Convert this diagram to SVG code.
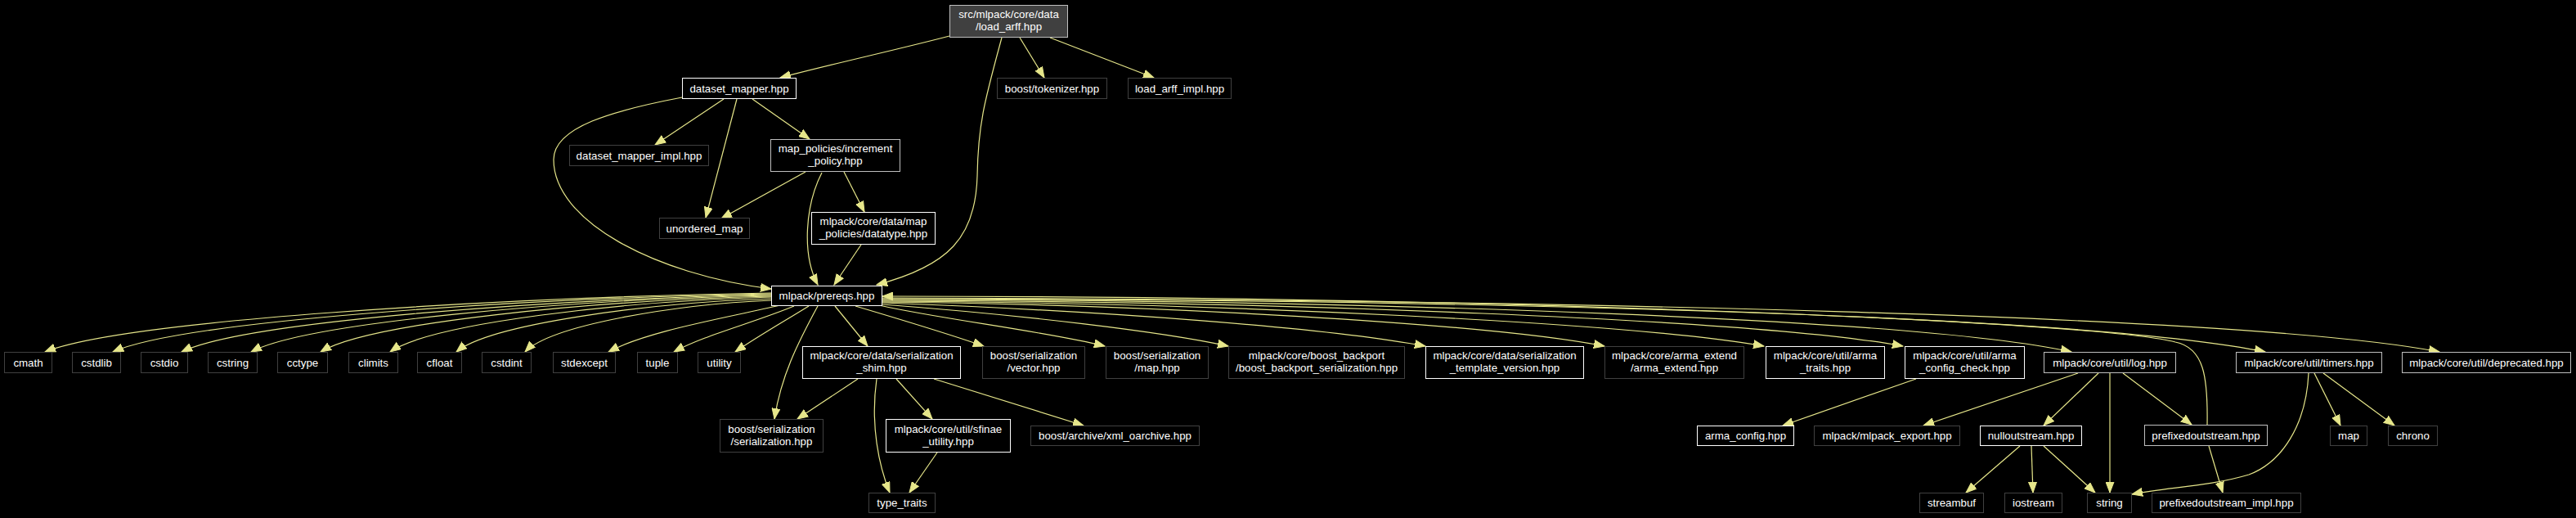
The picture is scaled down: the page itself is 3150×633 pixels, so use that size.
<svg xmlns="http://www.w3.org/2000/svg" width="3150" height="633" viewBox="0 0 3150 633">
<style>
.bg{fill:#000}
rect.w{fill:#000;stroke:#ffffff;stroke-width:1}
rect.g{fill:#000;stroke:#bfbfbf;stroke-width:1}
rect.d{fill:#000;stroke:#404040;stroke-width:1}
rect.r{fill:#404040;stroke:#bfbfbf;stroke-width:1}
text{font-family:"Liberation Sans",Arial,Helvetica,sans-serif;font-size:13.3px;fill:#ffffff;text-anchor:middle}
#edges path{fill:none;stroke:#e6e68a;stroke-width:1.2;marker-end:url(#ah)}
</style>
<defs>
<marker id="ah" markerUnits="userSpaceOnUse" markerWidth="14" markerHeight="11" refX="13" refY="5" orient="auto" viewBox="0 0 14 10">
<path d="M0,0 L13,5 L0,10 z" fill="#e6e68a" stroke="#e6e68a" stroke-width="1"/>
</marker>
</defs>
<rect class="bg" x="0" y="0" width="3150" height="633"/>
<g id="edges">
<path d="M1161,44 C1100,60 1010,80 954,95"/>
<path d="M1225,46 C1205,120 1196,150 1195,215 C1193,290 1160,325 1072,348"/>
<path d="M1247,46 L1277,95"/>
<path d="M1284,46 L1411,95"/>
<path d="M885,121 L801,177"/>
<path d="M901,121 L863,266"/>
<path d="M920,121 L990,170"/>
<path d="M834,119 C750,135 677,155 677,195 C677,270 800,335 943,353"/>
<path d="M985,210 L882,267"/>
<path d="M1005,211 C985,250 980,310 1000,348"/>
<path d="M1032,210 L1057,259"/>
<path d="M1053,299 L1020,348"/>
<path d="M943,358 C597,364 150,392 55,430"/>
<path d="M943,359 C629,365 224,392 138,430"/>
<path d="M943,360 C662,366 299,393 222,430"/>
<path d="M943,361 C695,366 375,394 307,430"/>
<path d="M943,362 C728,367 451,394 392,430"/>
<path d="M943,363 C761,368 527,395 477,430"/>
<path d="M943,365 C793,370 599,396 558,430"/>
<path d="M943,367 C826,372 674,397 642,430"/>
<path d="M954,373 C880,390 790,405 744,430"/>
<path d="M971,374 C920,395 860,410 824,430"/>
<path d="M989,374 C960,392 925,412 899,430"/>
<path d="M1000,374 C975,420 955,460 947,512"/>
<path d="M1021,374 L1061,423"/>
<path d="M1046,374 C1100,390 1160,408 1203,423"/>
<path d="M1075,373 C1150,390 1280,405 1351,423"/>
<path d="M1079,372 C1250,385 1420,405 1502,423"/>
<path d="M1079,370 C1350,380 1620,400 1743,423"/>
<path d="M1079,369 C1400,372 1820,395 1962,423"/>
<path d="M1079,368 C1500,370 2000,395 2157,423"/>
<path d="M1079,367 C1550,368 2150,390 2327,423"/>
<path d="M1079,366 C1700,367 2350,390 2533,430"/>
<path d="M1079,365 C1800,366 2550,385 2770,430"/>
<path d="M1079,364 C1900,366 2750,385 2983,430"/>
<path d="M2699,519 C2700,460 2695,425 2660,418 C2560,392 1800,362 1079,362"/>
<path d="M1049,463 L975,512"/>
<path d="M1072,463 C1064,520 1075,570 1088,602"/>
<path d="M1096,463 L1140,512"/>
<path d="M1142,463 L1325,520"/>
<path d="M1146,553 L1112,602"/>
<path d="M2343,463 L2180,520"/>
<path d="M2541,456 L2352,520"/>
<path d="M2566,456 L2499,520"/>
<path d="M2580,456 L2580,602"/>
<path d="M2596,456 L2680,519"/>
<path d="M2470,545 L2404,602"/>
<path d="M2484,545 L2486,602"/>
<path d="M2499,545 L2562,602"/>
<path d="M2701,545 L2718,602"/>
<path d="M2823,456 C2820,520 2790,565 2750,580 C2700,595 2650,595 2607,604"/>
<path d="M2830,456 L2862,520"/>
<path d="M2841,456 L2928,520"/>
</g>
<g id="n_root"><rect class="r" x="1161.5" y="6.5" width="144" height="39"/><text x="1233.5" y="22">src/mlpack/core/data</text><text x="1233.5" y="37">/load_arff.hpp</text></g>
<g id="n_dm"><rect class="w" x="834.5" y="95.5" width="139" height="25"/><text x="904" y="112.5">dataset_mapper.hpp</text></g>
<g id="n_tok"><rect class="d" x="1219.5" y="95.5" width="134" height="25"/><text x="1286.5" y="112.5">boost/tokenizer.hpp</text></g>
<g id="n_lai"><rect class="d" x="1379.5" y="95.5" width="126" height="25"/><text x="1442.5" y="112.5">load_arff_impl.hpp</text></g>
<g id="n_dmi"><rect class="d" x="696.5" y="177.5" width="170" height="25"/><text x="781.5" y="194.5">dataset_mapper_impl.hpp</text></g>
<g id="n_inc"><rect class="g" x="942.5" y="170.5" width="158" height="39"/><text x="1021.5" y="186">map_policies/increment</text><text x="1021.5" y="201">_policy.hpp</text></g>
<g id="n_um"><rect class="d" x="806.5" y="266.5" width="110" height="25"/><text x="861.5" y="283.5">unordered_map</text></g>
<g id="n_dt"><rect class="w" x="992.5" y="259.5" width="151" height="39"/><text x="1068" y="275">mlpack/core/data/map</text><text x="1068" y="290">_policies/datatype.hpp</text></g>
<g id="n_pre"><rect class="w" x="943.5" y="349.5" width="135" height="24"/><text x="1011" y="366">mlpack/prereqs.hpp</text></g>
<g id="n_cmath"><rect class="d" x="5.5" y="430.5" width="58" height="25"/><text x="34.5" y="447.5">cmath</text></g>
<g id="n_cstdlib"><rect class="d" x="88.5" y="430.5" width="59" height="25"/><text x="118" y="447.5">cstdlib</text></g>
<g id="n_cstdio"><rect class="d" x="172.5" y="430.5" width="57" height="25"/><text x="201" y="447.5">cstdio</text></g>
<g id="n_cstring"><rect class="d" x="254.5" y="430.5" width="60" height="25"/><text x="284.5" y="447.5">cstring</text></g>
<g id="n_cctype"><rect class="d" x="339.5" y="430.5" width="61" height="25"/><text x="370" y="447.5">cctype</text></g>
<g id="n_climits"><rect class="d" x="426.5" y="430.5" width="60" height="25"/><text x="456.5" y="447.5">climits</text></g>
<g id="n_cfloat"><rect class="d" x="510.5" y="430.5" width="54" height="25"/><text x="537.5" y="447.5">cfloat</text></g>
<g id="n_cstdint"><rect class="d" x="589.5" y="430.5" width="60" height="25"/><text x="619.5" y="447.5">cstdint</text></g>
<g id="n_stdexcept"><rect class="d" x="676.5" y="430.5" width="76" height="25"/><text x="714.5" y="447.5">stdexcept</text></g>
<g id="n_tuple"><rect class="d" x="779.5" y="430.5" width="49" height="25"/><text x="804" y="447.5">tuple</text></g>
<g id="n_utility"><rect class="d" x="853.5" y="430.5" width="52" height="25"/><text x="879.5" y="447.5">utility</text></g>
<g id="n_shim"><rect class="w" x="981.5" y="423.5" width="193" height="39"/><text x="1078" y="439">mlpack/core/data/serialization</text><text x="1078" y="454">_shim.hpp</text></g>
<g id="n_vec"><rect class="d" x="1201.5" y="423.5" width="125" height="39"/><text x="1264" y="439">boost/serialization</text><text x="1264" y="454">/vector.hpp</text></g>
<g id="n_bmap"><rect class="d" x="1352.5" y="423.5" width="125" height="39"/><text x="1415" y="439">boost/serialization</text><text x="1415" y="454">/map.hpp</text></g>
<g id="n_bp"><rect class="d" x="1502.5" y="423.5" width="215" height="39"/><text x="1610" y="439">mlpack/core/boost_backport</text><text x="1610" y="454">/boost_backport_serialization.hpp</text></g>
<g id="n_tv"><rect class="w" x="1743.5" y="423.5" width="193" height="39"/><text x="1840" y="439">mlpack/core/data/serialization</text><text x="1840" y="454">_template_version.hpp</text></g>
<g id="n_ae"><rect class="d" x="1962.5" y="423.5" width="170" height="39"/><text x="2047.5" y="439">mlpack/core/arma_extend</text><text x="2047.5" y="454">/arma_extend.hpp</text></g>
<g id="n_at"><rect class="w" x="2159.5" y="423.5" width="145" height="39"/><text x="2232" y="439">mlpack/core/util/arma</text><text x="2232" y="454">_traits.hpp</text></g>
<g id="n_acc"><rect class="w" x="2329.5" y="423.5" width="146" height="39"/><text x="2402.5" y="439">mlpack/core/util/arma</text><text x="2402.5" y="454">_config_check.hpp</text></g>
<g id="n_log"><rect class="g" x="2499.5" y="430.5" width="161" height="25"/><text x="2580" y="447.5">mlpack/core/util/log.hpp</text></g>
<g id="n_tim"><rect class="g" x="2734.5" y="430.5" width="178" height="25"/><text x="2823.5" y="447.5">mlpack/core/util/timers.hpp</text></g>
<g id="n_dep"><rect class="g" x="2937.5" y="430.5" width="206" height="25"/><text x="3040.5" y="447.5">mlpack/core/util/deprecated.hpp</text></g>
<g id="n_ser"><rect class="d" x="880.5" y="512.5" width="126" height="40"/><text x="943.5" y="528.5">boost/serialization</text><text x="943.5" y="543.5">/serialization.hpp</text></g>
<g id="n_sf"><rect class="w" x="1083.5" y="512.5" width="152" height="40"/><text x="1159.5" y="528.5">mlpack/core/util/sfinae</text><text x="1159.5" y="543.5">_utility.hpp</text></g>
<g id="n_xml"><rect class="d" x="1260.5" y="520.5" width="206" height="24"/><text x="1363.5" y="537">boost/archive/xml_oarchive.hpp</text></g>
<g id="n_ac"><rect class="w" x="2075.5" y="520.5" width="118" height="24"/><text x="2134.5" y="537">arma_config.hpp</text></g>
<g id="n_me"><rect class="d" x="2218.5" y="520.5" width="178" height="24"/><text x="2307.5" y="537">mlpack/mlpack_export.hpp</text></g>
<g id="n_nos"><rect class="w" x="2421.5" y="520.5" width="124" height="24"/><text x="2483.5" y="537">nulloutstream.hpp</text></g>
<g id="n_pos"><rect class="g" x="2622.5" y="519.5" width="150" height="25"/><text x="2697.5" y="537">prefixedoutstream.hpp</text></g>
<g id="n_map"><rect class="d" x="2849.5" y="520.5" width="45" height="24"/><text x="2872" y="537">map</text></g>
<g id="n_chrono"><rect class="d" x="2920.5" y="520.5" width="60" height="24"/><text x="2950.5" y="537">chrono</text></g>
<g id="n_tt"><rect class="d" x="1062.5" y="602.5" width="81" height="24"/><text x="1103" y="619">type_traits</text></g>
<g id="n_sb"><rect class="d" x="2347.5" y="602.5" width="78" height="24"/><text x="2386.5" y="619">streambuf</text></g>
<g id="n_ios"><rect class="d" x="2451.5" y="602.5" width="70" height="24"/><text x="2486.5" y="619">iostream</text></g>
<g id="n_str"><rect class="d" x="2552.5" y="602.5" width="54" height="24"/><text x="2579.5" y="619">string</text></g>
<g id="n_poi"><rect class="d" x="2631.5" y="602.5" width="182" height="24"/><text x="2722.5" y="619">prefixedoutstream_impl.hpp</text></g>
</svg>
